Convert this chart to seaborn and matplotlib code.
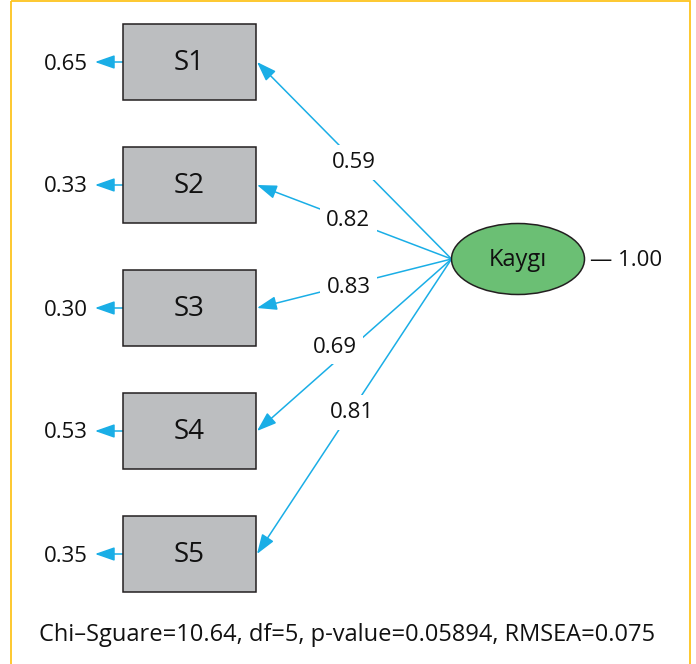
import numpy as np
import seaborn as sns
import matplotlib.pyplot as plt
from matplotlib.patches import Rectangle, Ellipse, FancyArrowPatch

# model values
items = ["S1", "S2", "S3", "S4", "S5"]
loadings = [0.59, 0.82, 0.83, 0.69, 0.81]
errors = [0.65, 0.33, 0.30, 0.53, 0.35]
latent = "Kaygı"
latent_var = 1.00
fit_text = "Chi\u2013Sguare=10.64, df=5, p-value=0.05894, RMSEA=0.075"

# colours
cyan = "#1aaee6"
box_gray = "#bcbec0"
green = "#6bbf74"
gold = "#fdc41f"

sns.set_theme(style="white")
plt.rcParams["font.family"] = ["Open Sans", "DejaVu Sans"]

fig = plt.figure(figsize=(6.96, 6.64), dpi=100)
ax = fig.add_axes([0, 0, 1, 1])
ax.set_xlim(0, 696)
ax.set_ylim(664, 0)
ax.axis("off")

# frame
ax.add_patch(Rectangle((11, 1), 679, 700, fill=False, ec=gold, lw=1.3))

# layout
box_x, box_w, box_h = 123, 133, 76
box_y = np.linspace(62, 554, len(items))
lat_x, lat_y, lat_w, lat_h = 518, 259, 133, 71
src = (lat_x - lat_w / 2, lat_y)
lab_t = [0.50, 0.53, 0.53, 0.56, 0.52]
lab_dx = [0, 0, 0, -8, 2]
lab_dy = [2, 1, 3, -8, 0]

def arrow(p0, p1):
    ax.add_patch(FancyArrowPatch(p0, p1, arrowstyle="-|>,head_length=0.8,head_width=0.28",
                                 mutation_scale=15, color=cyan, lw=1.1,
                                 shrinkA=0, shrinkB=0, zorder=2))

for i, (name, lam, err) in enumerate(zip(items, loadings, errors)):
    yc = box_y[i]
    ax.add_patch(Rectangle((box_x, yc - box_h / 2), box_w, box_h,
                           fc=box_gray, ec="#231f20", lw=1.1, zorder=3))
    ax.text(box_x + box_w / 2, yc + 1, name, ha="center", va="center", fontsize=20, color="#111111", zorder=4)

    # error arrow
    arrow((box_x, yc), (box_x - 28, yc))
    ax.text(box_x - 35, yc + 2, f"{err:.2f}", ha="right", va="center", fontsize=16, color="#111111")

    # loading arrow
    end = (box_x + box_w + 1, yc)
    arrow(src, end)
    t = lab_t[i]
    lx = src[0] + t * (end[0] - src[0]) + lab_dx[i]
    ly = src[1] + t * (end[1] - src[1]) + lab_dy[i]
    ax.text(lx, ly, f"{lam:.2f}", ha="center", va="center", fontsize=16, color="#111111", zorder=5,
            bbox=dict(boxstyle="square,pad=0.3", fc="white", ec="none"))

ax.add_patch(Ellipse((lat_x, lat_y), lat_w, lat_h, fc=green, ec="#231f20", lw=1.1, zorder=3))
ax.text(lat_x, lat_y + 1, latent, ha="center", va="center", fontsize=17, color="#111111", zorder=4)
ax.text(lat_x + lat_w / 2 + 6, lat_y + 1, f"\u2014 {latent_var:.2f}", ha="left", va="center",
        fontsize=16, color="#111111")

ax.text(347, 635, fit_text, ha="center", va="center", fontsize=17, color="#111111")

fig.savefig("out.png", dpi=100)
